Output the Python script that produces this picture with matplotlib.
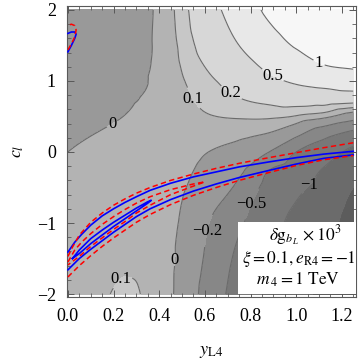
import numpy as np
import matplotlib
matplotlib.use("Agg")
import matplotlib.pyplot as plt
import matplotlib.tri as mtri

# ---------------- data ----------------
y_L4 = [0.0, 0.125, 0.25, 0.375, 0.5, 0.625, 0.75, 0.875, 1.0, 1.125, 1.25]
c_l = [-2.0, -1.5, -1.0, -0.5, -0.25, 0.0, 0.25, 0.5, 0.75, 1.0, 1.25, 1.5, 2.0]

# delta g_bL x 10^3 on the grid, one row per c_l value
z_cm200 = [0.06, 0.08, 0.115, 0.07, -0.05, -0.33, -0.67, -1.08, -1.6, -2.35, -3.6]
z_cm150 = [0.045, 0.065, 0.085, 0.058, -0.035, -0.27, -0.58, -0.93, -1.4, -2.0, -3.0]
z_cm100 = [0.03, 0.05, 0.065, 0.045, -0.015, -0.21, -0.45, -0.78, -1.17, -1.6, -2.5]
z_cm050 = [0.015, 0.035, 0.048, 0.038, 0.012, -0.1, -0.25, -0.6, -0.88, -1.25, -2.0]
z_cm025 = [0.008, 0.027, 0.04, 0.035, 0.025, -0.05, -0.15, -0.48, -0.7, -1.05, -1.55]
z_c000 = [0.0, 0.0135, 0.03, 0.032, 0.04, -0.004, -0.06, -0.19, -0.5, -0.75, -1.15]
z_c025 = [-0.008, 0.001, 0.016, 0.027, 0.05, 0.045, 0.03, -0.01, -0.15, -0.4, -0.62]
z_c050 = [-0.015, -0.012, 0.001, 0.02, 0.06, 0.095, 0.11, 0.115, 0.09, 0.03, -0.1]
z_c075 = [-0.023, -0.024, -0.008, 0.013, 0.075, 0.14, 0.195, 0.25, 0.29, 0.3, 0.3]
z_c100 = [-0.03, -0.035, -0.014, 0.008, 0.092, 0.18, 0.28, 0.42, 0.55, 0.65, 0.76]
z_c125 = [-0.038, -0.045, -0.018, 0.005, 0.11, 0.24, 0.38, 0.6, 0.8, 1.03, 1.1]
z_c150 = [-0.045, -0.055, -0.021, 0.003, 0.125, 0.3, 0.5, 0.78, 1.04, 1.22, 1.3]
z_c200 = [-0.06, -0.07, -0.025, 0.001, 0.15, 0.4, 0.7, 1.08, 1.35, 1.5, 1.65]

levels = [-2, -1, -0.5, -0.2, 0, 0.1, 0.2, 0.5, 1]
level_text = ["\u22122", "\u22121", "\u22120.5", "\u22120.2", "0", "0.1", "0.2", "0.5", "1"]

# contour label anchor points (y_L4, c_l)
label_pts = [(1.095, 1.225), (0.898, 1.085), (0.718, 0.845), (0.534, 0.732),
             (0.197, 0.38), (0.46, -1.52), (0.60, -1.10), (0.797, -0.72),
             (1.038, -0.42), (0.228, -1.77)]

# blue (solid) constraint curves
blue_up_x = [0, 0.03, 0.06, 0.1, 0.15, 0.2, 0.25, 0.3, 0.36, 0.45, 0.55, 0.65, 0.75, 0.88, 1.0, 1.12, 1.25]
blue_up_c = [-1.41, -1.27, -1.16, -1.03, -0.9, -0.8, -0.71, -0.63, -0.54, -0.44, -0.35, -0.28, -0.21, -0.14, -0.08, -0.03, 0.01]
blue_lo_x = [0, 0.05, 0.1, 0.15, 0.2, 0.25, 0.3, 0.36, 0.45, 0.55, 0.65, 0.75, 0.88, 1.0, 1.12, 1.25]
blue_lo_c = [-1.66, -1.5, -1.37, -1.25, -1.13, -1.02, -0.91, -0.8, -0.67, -0.55, -0.45, -0.36, -0.26, -0.17, -0.09, -0.04]
blue_in_x = [0.02, 0.05, 0.1, 0.15, 0.2, 0.25, 0.3, 0.35, 0.365, 0.35, 0.3, 0.25, 0.2, 0.15, 0.1, 0.05, 0.02]
blue_in_c = [-1.5, -1.38, -1.22, -1.1, -0.99, -0.89, -0.79, -0.7, -0.68, -0.72, -0.83, -0.94, -1.05, -1.17, -1.29, -1.43, -1.5]
blue_top_x = [0.0, 0.015, 0.03, 0.036, 0.03, 0.015, 0.0]
blue_top_c = [1.41, 1.5, 1.6, 1.66, 1.69, 1.69, 1.67]

# red (dashed) constraint curves
red_up_x = [0, 0.02, 0.05, 0.1, 0.15, 0.2, 0.25, 0.3, 0.36, 0.45, 0.55, 0.65, 0.75, 0.88, 1.0, 1.12, 1.25]
red_up_c = [-1.47, -1.34, -1.17, -0.99, -0.86, -0.75, -0.66, -0.58, -0.5, -0.4, -0.31, -0.23, -0.16, -0.08, -0.01, 0.06, 0.13]
red_lo_x = [0, 0.05, 0.1, 0.15, 0.2, 0.25, 0.3, 0.36, 0.45, 0.55, 0.65, 0.75, 0.88, 1.0, 1.12, 1.25]
red_lo_c = [-1.76, -1.6, -1.46, -1.33, -1.21, -1.1, -0.99, -0.88, -0.74, -0.61, -0.5, -0.4, -0.29, -0.19, -0.11, -0.05]
red_in_x = [0.0, 0.03, 0.06, 0.1, 0.15, 0.2, 0.25, 0.3, 0.36, 0.45, 0.55, 0.6,
            0.55, 0.45, 0.36, 0.3, 0.25, 0.2, 0.15, 0.1, 0.05, 0.0]
red_in_c = [-1.55, -1.38, -1.27, -1.15, -1.02, -0.91, -0.81, -0.72, -0.63, -0.53, -0.45, -0.42,
            -0.48, -0.6, -0.75, -0.86, -0.98, -1.09, -1.21, -1.33, -1.47, -1.59]
red_top_x = [0.0, 0.015, 0.03, 0.036, 0.03, 0.015, 0.0]
red_top_c = [1.44, 1.52, 1.62, 1.72, 1.78, 1.8, 1.78]

# ---------------- styling ----------------
plt.rcParams['font.family'] = ['Liberation Serif', 'DejaVu Serif']
plt.rcParams['mathtext.fontset'] = 'stix'

band_colors = ['0.36', '0.42', '0.47', '0.53', '0.60', '0.70', '0.78', '0.845', '0.91', '0.97']

fig = plt.figure(figsize=(3.59, 3.64), dpi=100)
ax = fig.add_axes([67 / 359, 1 - 297 / 364, (356 - 67) / 359, (297 - 6) / 364])

Z = np.array([z_cm200, z_cm150, z_cm100, z_cm050, z_cm025, z_c000, z_c025,
              z_c050, z_c075, z_c100, z_c125, z_c150, z_c200])
XX, CC = np.meshgrid(y_L4, c_l)
tri = mtri.Triangulation(XX.ravel(), CC.ravel())
interp = mtri.CubicTriInterpolator(tri, Z.ravel(), kind='geom')
refiner = mtri.UniformTriRefiner(tri)
tri_r, z_r = refiner.refine_field(Z.ravel(), interp, subdiv=4)

fill_levels = [-100] + levels + [100]
ax.tricontourf(tri_r, z_r, levels=fill_levels, colors=band_colors)
cs = ax.tricontour(tri_r, z_r, levels=levels, colors='0.42', linewidths=0.8,
                   linestyles='solid', negative_linestyles='solid')
fmt = {lv: t for lv, t in zip(cs.levels, level_text)}
lbls = ax.clabel(cs, fmt=fmt, manual=label_pts, inline=True, inline_spacing=2,
                 fontsize=12, colors='black')
for t in lbls:
    t.set_rotation(0)

# constraint curves
for xs, cs_ in [(blue_up_x, blue_up_c), (blue_lo_x, blue_lo_c), (blue_in_x, blue_in_c),
                (blue_top_x, blue_top_c)]:
    ax.plot(xs, cs_, color='#0000ff', lw=1.2, zorder=4)
for xs, cs_ in [(red_up_x, red_up_c), (red_lo_x, red_lo_c), (red_in_x, red_in_c),
                (red_top_x, red_top_c)]:
    ax.plot(xs, cs_, color='#ff0000', lw=1.1, ls=(0, (3.5, 2.2)), zorder=5)

# legend box
ax.fill_between([0.745, 1.262], -1.995, -0.986, color='white', zorder=6, lw=0)
ax.text(1.038, -1.18, r'$\delta \mathrm{g}_{b_L}\,\times 10^3$', ha='center', va='center',
        fontsize=12.5, zorder=7)
ax.text(1.01, -1.51, r'$\xi = 0.1, e_{\mathrm{R4}} = -1$', ha='center', va='center',
        fontsize=12.5, zorder=7)
ax.text(1.006, -1.8, r'$m\,_4 = 1\ \mathrm{TeV}$', ha='center', va='center',
        fontsize=12.5, zorder=7)

ax.set_xlim(-0.004, 1.262)
ax.set_ylim(-2.042, 2.056)
ax.set_xticks([0.0, 0.2, 0.4, 0.6, 0.8, 1.0, 1.2])
ax.set_xticklabels(['0.0', '0.2', '0.4', '0.6', '0.8', '1.0', '1.2'])
ax.set_yticks([-2, -1, 0, 1, 2])
ax.set_yticklabels(['\u22122', '\u22121', '0', '1', '2'])
ax.set_xticks(np.arange(0, 1.2501, 0.05), minor=True)
ax.set_yticks(np.arange(-2, 2.001, 0.2), minor=True)
ax.tick_params(which='both', direction='in', top=True, right=True, color='0.35',
               labelsize=13)
ax.tick_params(which='major', length=5, width=0.7, pad=8)
ax.tick_params(which='minor', length=3, width=0.6)
for s in ax.spines.values():
    s.set_color('0.35')
    s.set_linewidth(0.8)

ax.set_xlabel(r'$y_{\mathrm{L4}}$', fontsize=13, labelpad=13)
ax.set_ylabel(r'$c_l$', fontsize=13, labelpad=8)

fig.savefig('out.png', dpi=100)
